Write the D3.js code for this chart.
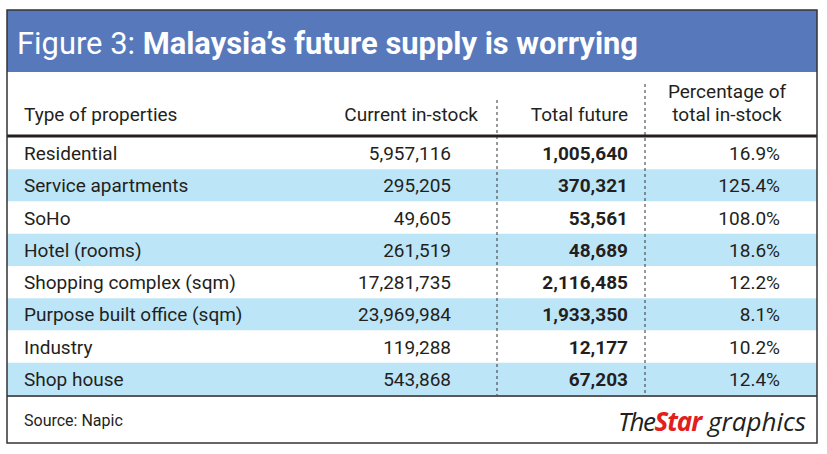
<!DOCTYPE html>
<html><head><meta charset="utf-8">
<script src="https://cdn.jsdelivr.net/npm/d3@7"></script>
<style>body{margin:0;background:#fff}text{font-family:Roboto,sans-serif}</style>
</head><body>
<svg id="chart" width="827" height="454"></svg>
<script>
const types = ["Residential","Service apartments","SoHo","Hotel (rooms)","Shopping complex (sqm)","Purpose built office (sqm)","Industry","Shop house"];
const currentStock = [5957116,295205,49605,261519,17281735,23969984,119288,543868];
const totalFuture = [1005640,370321,53561,48689,2116485,1933350,12177,67203];
const pctInStock = [16.9,125.4,108.0,18.6,12.2,8.1,10.2,12.4];

const svg = d3.select("#chart");
const fmt = d3.format(",");
const boxL = 7, boxR = 817, boxT = 10, boxB = 443;

svg.append("rect").attr("x", boxL).attr("y", boxT).attr("width", boxR - boxL).attr("height", 62).attr("fill", "#5779bb");
const title = svg.append("text").attr("x", 17).attr("y", 54).attr("fill", "#fff").attr("font-size", 31)
  .attr("textLength", 621).attr("lengthAdjust", "spacingAndGlyphs");
title.append("tspan").text("Figure 3: ");
title.append("tspan").attr("font-weight", "bold").text("Malaysia\u2019s future supply is worrying");

const y = d3.scaleBand().domain(d3.range(types.length)).range([137, 395]);

svg.selectAll("rect.row").data(types).join("rect").attr("class", "row")
  .attr("x", boxL).attr("width", boxR - boxL)
  .attr("y", (d, i) => y(i)).attr("height", y.bandwidth())
  .attr("fill", (d, i) => i % 2 ? "#bde5f8" : "#fff");

// headers
const hdr = svg.append("g").attr("font-size", 19).attr("fill", "#231f20");
hdr.append("text").attr("x", 24).attr("y", 121).text("Type of properties");
hdr.append("text").attr("x", 478).attr("y", 121).attr("text-anchor", "end").text("Current in-stock");
hdr.append("text").attr("x", 628).attr("y", 121).attr("text-anchor", "end").text("Total future");
hdr.append("text").attr("x", 727).attr("y", 98).attr("text-anchor", "middle").text("Percentage of");
hdr.append("text").attr("x", 727).attr("y", 121).attr("text-anchor", "middle").text("total in-stock");

const rows = svg.selectAll("g.r").data(types).join("g").attr("class", "r")
  .attr("transform", (d, i) => `translate(0,${y(i) + y.bandwidth() / 2 + 7})`)
  .attr("font-size", 19).attr("fill", "#231f20");
rows.append("text").attr("x", 24).text(d => d);
rows.append("text").attr("x", 451).attr("text-anchor", "end").text((d, i) => fmt(currentStock[i]));
rows.append("text").attr("x", 628).attr("text-anchor", "end").attr("font-weight", "bold").text((d, i) => fmt(totalFuture[i]));
rows.append("text").attr("x", 780).attr("text-anchor", "end").text((d, i) => pctInStock[i].toFixed(1) + "%");

// dashed separators
[497, 645].forEach(x => svg.append("line").attr("x1", x).attr("x2", x).attr("y1", x === 497 ? 100 : 84).attr("y2", 395)
  .attr("stroke", "#333").attr("stroke-width", 1).attr("stroke-dasharray", "3,3"));

svg.append("line").attr("x1", boxL).attr("x2", boxR).attr("y1", 136).attr("y2", 136).attr("stroke", "#231f20").attr("stroke-width", 3);
svg.append("line").attr("x1", boxL).attr("x2", boxR).attr("y1", 396).attr("y2", 396).attr("stroke", "#231f20").attr("stroke-width", 1.5);
svg.append("rect").attr("x", boxL).attr("y", boxT).attr("width", boxR - boxL).attr("height", boxB - boxT)
  .attr("fill", "none").attr("stroke", "#333").attr("stroke-width", 1.5);

svg.append("text").attr("x", 24).attr("y", 426).attr("font-size", 16).attr("fill", "#231f20").text("Source: Napic");
const logo = svg.append("text").attr("x", 806).attr("y", 431).attr("text-anchor", "end").attr("font-size", 26)
  .attr("font-style", "italic").attr("fill", "#231f20").style("font-family", "'Open Sans',sans-serif");
logo.append("tspan").attr("letter-spacing", -1.5).text("The");
logo.append("tspan").attr("fill", "#e1201e").attr("font-weight", "bold").attr("letter-spacing", -1).text("Star");
logo.append("tspan").text(" graphics");
</script>
</body></html>
